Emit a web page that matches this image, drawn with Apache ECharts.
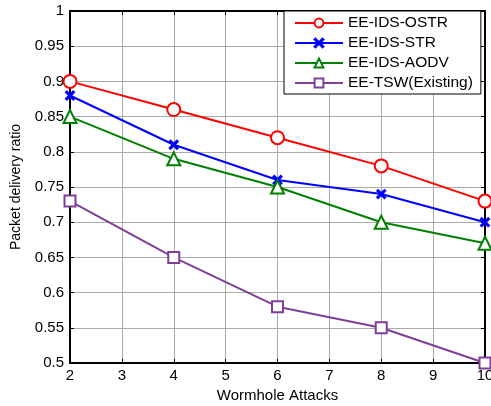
<!DOCTYPE html>
<html>
<head>
<meta charset="utf-8">
<title>Packet delivery ratio</title>
<script src="https://cdn.jsdelivr.net/npm/echarts@6/dist/echarts.min.js"></script>
<style>
  html, body { margin: 0; padding: 0; background: #fff; }
  #main { width: 491px; height: 406px; }
</style>
</head>
<body>
<div id="main"></div>
<script>
// wormhole attack counts (x values)
var attacks = [2, 4, 6, 8, 10];
var ostr = [0.90, 0.86, 0.82, 0.78, 0.73];
var str = [0.88, 0.81, 0.76, 0.74, 0.70];
var aodv = [0.85, 0.79, 0.75, 0.70, 0.67];
var tsw = [0.73, 0.65, 0.58, 0.55, 0.50];

var names = ['EE-IDS-OSTR', 'EE-IDS-STR', 'EE-IDS-AODV', 'EE-TSW(Existing)'];

function pairs(ys) {
    var res = [];
    for (var i = 0; i < attacks.length; i++) res.push([attacks[i], ys[i]]);
    return res;
}

var font = 'Liberation Sans, Arial, sans-serif';
var crossPath = 'path://M0,1L1,0L5,4L9,0L10,1L6,5L10,9L9,10L5,6L1,10L0,9L4,5Z';

function line(name, ys, color, symbol, size) {
    return {
        name: name,
        type: 'line',
        data: pairs(ys),
        symbol: symbol,
        symbolSize: size,
        showAllSymbol: true,
        lineStyle: { color: color, width: 2 },
        itemStyle: { color: color, borderColor: color, borderWidth: 2 },
        emphasis: { disabled: true },
        z: 5
    };
}

var chart = echarts.init(document.getElementById('main'));

var plainAxis = {
    axisLine: { show: true, lineStyle: { color: '#000', width: 2 } },
    axisTick: { show: true, inside: true, length: 4, lineStyle: { color: '#000' } },
    axisLabel: { show: false },
    splitLine: { show: false }
};

chart.setOption({
    animation: false,
    backgroundColor: '#fff',
    grid: { left: 70, right: 6, top: 11, bottom: 43, containLabel: false, outerBoundsMode: 'none' },
    legend: {
        data: names,
        orient: 'vertical',
        left: 284,
        top: 11,
        padding: [4, 8, 3, 10],
        itemGap: 4,
        itemWidth: 48,
        itemHeight: 11,
        backgroundColor: '#fff',
        borderColor: '#000',
        borderWidth: 1,
        textStyle: { fontFamily: font, fontSize: 15.5, lineHeight: 15, color: '#000' },
        selectedMode: false,
        z: 10
    },
    xAxis: [{
        type: 'value',
        min: 2, max: 10, interval: 1,
        name: 'Wormhole Attacks',
        nameLocation: 'middle',
        nameGap: 22,
        nameTextStyle: { fontFamily: font, fontSize: 15, color: '#000' },
        axisLine: { show: true, lineStyle: { color: '#000', width: 2 } },
        axisTick: { show: true, inside: true, length: 4, lineStyle: { color: '#000' } },
        axisLabel: { fontFamily: font, fontSize: 15, color: '#000', margin: 5 },
        splitLine: { show: true, lineStyle: { color: '#aaa', width: 1 } }
    }, Object.assign({
        type: 'value', min: 2, max: 10, interval: 1, position: 'top'
    }, plainAxis)],
    yAxis: [{
        type: 'value',
        min: 0.5, max: 1, interval: 0.05,
        name: 'Packet delivery ratio',
        nameLocation: 'middle',
        nameGap: 47,
        nameTextStyle: { fontFamily: font, fontSize: 14, color: '#000' },
        axisLine: { show: true, lineStyle: { color: '#000', width: 2 } },
        axisTick: { show: true, inside: true, length: 4, lineStyle: { color: '#000' } },
        axisLabel: {
            fontFamily: font, fontSize: 15, color: '#000', margin: 6,
            formatter: function (v) { return String(+v.toFixed(2)); }
        },
        splitLine: { show: true, lineStyle: { color: '#aaa', width: 1 } }
    }, Object.assign({
        type: 'value', min: 0.5, max: 1, interval: 0.05, position: 'right'
    }, plainAxis)],
    series: [
        line(names[0], ostr, '#ff0000', 'emptyCircle', 13),
        line(names[1], str, '#0000ff', crossPath, 8),
        line(names[2], aodv, '#008000', 'emptyTriangle', 13),
        line(names[3], tsw, '#7f3f98', 'emptyRect', 11)
    ]
});
</script>
</body>
</html>
